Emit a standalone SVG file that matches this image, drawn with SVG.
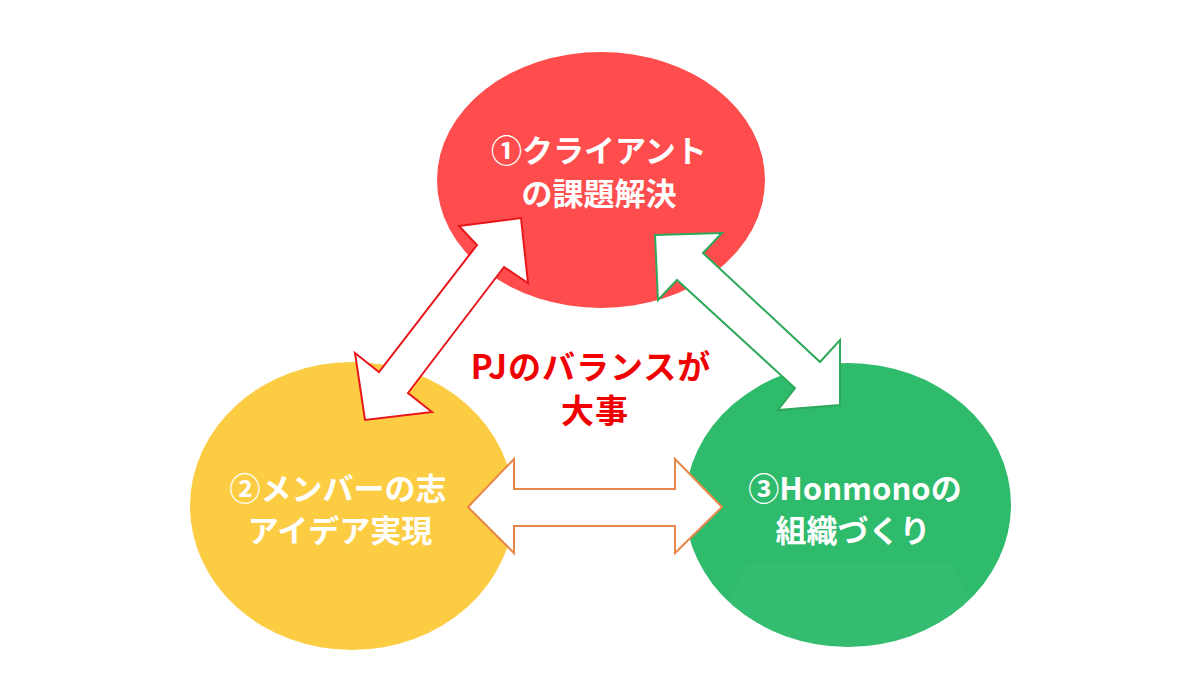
<svg xmlns="http://www.w3.org/2000/svg" width="1200" height="675" viewBox="0 0 1200 675">
<defs>
<style>
.node-text{font-family:"Noto Sans CJK JP","Noto Sans",sans-serif;font-weight:700;font-size:31px;fill:#ffffff;text-anchor:middle}
.center-text{font-family:"Noto Sans CJK JP","Noto Sans",sans-serif;font-weight:700;font-size:33px;letter-spacing:1px;fill:#f00000;text-anchor:middle}
.arrow{fill:#ffffff;stroke-width:2;stroke-linejoin:miter}
</style>
<clipPath id="greenClip"><ellipse cx="848" cy="505" rx="163" ry="142"/></clipPath>
</defs>
<rect width="1200" height="675" fill="#ffffff"/>
<g id="node-client">
<ellipse cx="601" cy="180" rx="164" ry="128" fill="#ff4c4c"/>
<text class="node-text" x="599" y="162">①クライアント</text>
<text class="node-text" x="599" y="205">の課題解決</text>
</g>
<g id="node-member">
<ellipse cx="352" cy="506" rx="162" ry="144" fill="#fccc42"/>
<text class="node-text" x="338" y="500">②メンバーの志</text>
<text class="node-text" x="340" y="542">アイデア実現</text>
</g>
<g id="node-honmono">
<ellipse cx="848" cy="505" rx="163" ry="142" fill="#2ebb6c"/>
<polygon points="747,563 950,563 1000,660 700,660" fill="#ffffff" opacity="0.03" clip-path="url(#greenClip)"/>
<text class="node-text" x="855" y="500">③Honmonoの</text>
<text class="node-text" x="853" y="542">組織づくり</text>
</g>
<g id="center-label">
<text class="center-text" x="591" y="379">PJのバランスが</text>
<text class="center-text" x="595" y="423">大事</text>
</g>
<g id="connectors">
<polygon class="arrow" stroke="#e8161b" points="521,218 528,283 504,267 408,393 432,412 365,420 355,353 379,372 477,245 459,226"/>
<polygon class="arrow" stroke="#2ea85a" points="655,235 722,233 703,253 820,362 840,340 840,405 778,410 795,388 677,280 658,300"/>
<polygon class="arrow" stroke="#e8874a" points="468,507 514,459 514,489 675,489 675,459 722,507 675,553 675,526 514,526 514,553"/>
</g>
</svg>
